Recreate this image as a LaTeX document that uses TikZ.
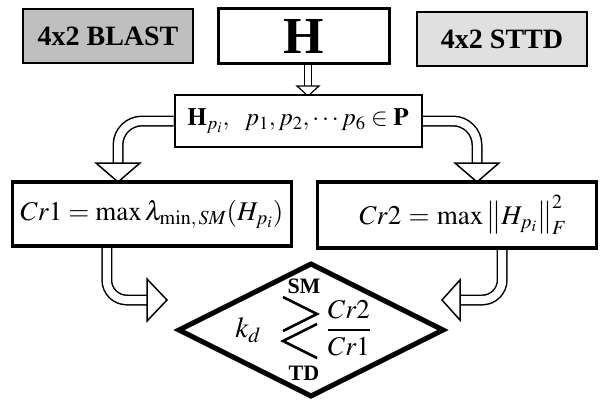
\documentclass[tikz,border=0pt]{standalone}
\usepackage{mathptmx}
\usepackage{fontspec}
\setmainfont{Liberation Serif}
\usetikzlibrary{calc, shapes.geometric, backgrounds}

\begin{document}
\begin{tikzpicture}[
    x=1pt, y=-1pt,
    mode/.style={draw, line width=2pt, fill=black!#1, minimum width=170pt, minimum height=54pt, font=\fontsize{28}{30}\selectfont\bfseries},
    blk/.style={draw, line width=#1, fill=white, inner sep=0pt},
    pipe/.style={draw=black, line width=1.5pt, double=white, double distance=8pt},
    hollow/.style={draw=black, fill=white, line width=1.5pt, line join=miter},
    big/.style={font=\fontsize{27}{30}\selectfont},
]
\useasboundingbox (0,0) rectangle (601,399);

% Top row
\node[mode=25] (blast) at (108,36) {4x2 BLAST};
\node[blk=3pt, minimum width=171pt, minimum height=55pt, font=\fontsize{52}{56}\selectfont\bfseries] (hbox) at (304,36) {H};
\node[mode=12] (sttd) at (502,39) {4x2 STTD};

% Channel subsets
\node[blk=2pt, minimum width=247pt, minimum height=52pt, font=\fontsize{25}{28}\selectfont] (pbox) at (298,121) {$\mathbf{H}_{p_i},\ \ p_1, p_2, \cdots p_6 \in \mathbf{P}$};

% Criteria
\node[blk=3.5pt, minimum width=279pt, minimum height=64pt, big] (cr1) at (152,214) {$Cr1 = \max\lambda_{\mathrm{min},\,SM}(H_{p_i})$};
\node[blk=3.5pt, minimum width=279pt, minimum height=66pt, big, text width=279pt, align=center] (cr2) at (457,215) {\hspace*{12pt}$Cr2 = \max\left\|H_{p_i}\right\|_F^2$};

% Decision
\node[draw, diamond, line width=5pt, minimum width=266pt, minimum height=134pt, inner sep=0pt] (dec) at (311,330) {};
\node[font=\fontsize{29}{30}\selectfont] (kd) at (248,330) {$k_d$};
\node[font=\fontsize{22}{24}\selectfont\bfseries] (sm) at (304,286) {SM};
\node[font=\fontsize{22}{24}\selectfont\bfseries] (td) at (304,373) {TD};
\node[big] (frac) at (349,328) {$\displaystyle\frac{Cr2}{Cr1}$};
\draw[line width=2.5pt] (283,297) -- (317,314) -- (283,331);
\draw[line width=2.5pt] (317,324) -- (283,341) -- (317,358);

% Hollow arrows
\coordinate (tipA) at (118,182);
\coordinate (tipB) at (477,182);
\coordinate (tipC) at (167,300);
\coordinate (tipD) at (442,300);
\begin{scope}[on background layer]
\draw[pipe, line width=1.2pt, double distance=6pt] ($(hbox.south)+(4,0)$) -- ($(hbox.south)+(4,21)$);
\draw[hollow, line width=1.2pt] ($(hbox.south)+(4,31)$) -- ++(-11,-10) -- ++(22,0) -- cycle;

\draw[pipe, rounded corners=24pt] (pbox.west) -| ($(tipA)+(0,-18)$);
\draw[hollow] (tipA) -- ++(-22,-19) -- ++(44,0) -- cycle;

\draw[pipe, rounded corners=24pt] (pbox.east) -| ($(tipB)+(0,-18)$);
\draw[hollow] (tipB) -- ++(-22,-19) -- ++(44,0) -- cycle;

\draw[pipe, rounded corners=20pt] ($(cr1.south west)!0.34!(cr1.south east)$) |- ($(tipC)+(-19,0)$);
\draw[hollow] (tipC) -- ++(-20,-21) -- ++(0,42) -- cycle;

\draw[pipe, rounded corners=20pt] ($(cr2.south west)!0.66!(cr2.south east)$) |- ($(tipD)+(17,0)$);
\draw[hollow] (tipD) -- ++(18,-20) -- ++(0,40) -- cycle;
\end{scope}

\end{tikzpicture}
\end{document}
